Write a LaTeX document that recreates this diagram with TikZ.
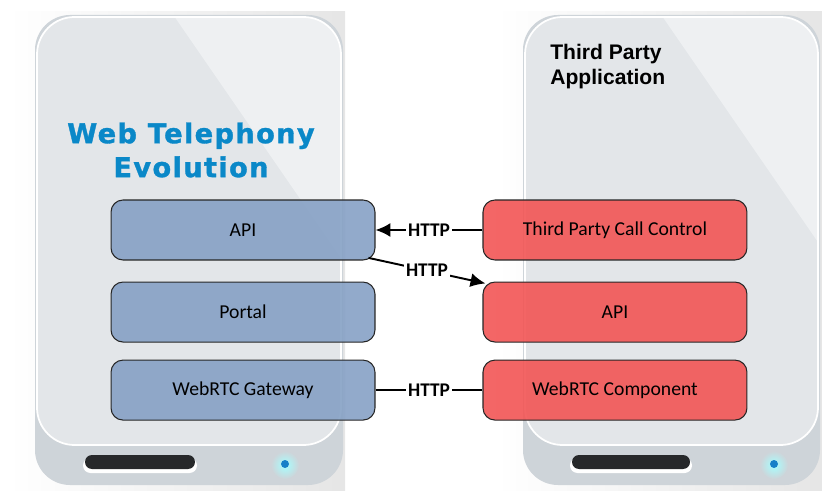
\documentclass[tikz,border=0pt]{standalone}
\usepackage{fontspec}
\setmainfont{Carlito}
\newfontfamily\titlefont[LetterSpace=5, FakeBold=1.2]{DejaVu Sans}
\newfontfamily\appfont{Liberation Sans}
\usepackage{xcolor}
\usepackage{tikz}
\usetikzlibrary{positioning, arrows.meta}

\definecolor{bezelgray}{RGB}{206,212,217}
\definecolor{facegray}{RGB}{227,230,233}
\definecolor{facehi}{RGB}{238,240,242}
\definecolor{slotgray}{RGB}{38,40,42}
\definecolor{ledblue}{RGB}{22,128,200}
\definecolor{titleblue}{RGB}{10,136,200}
\definecolor{wtblue}{RGB}{134,161,197}
\definecolor{tpred}{RGB}{242,85,85}

\begin{document}
\begin{tikzpicture}[
  x=0.02cm, y=-0.02cm,
  font=\fontsize{11.2}{13}\selectfont,
  comp/.style={draw=black!85, line width=0.6pt, rounded corners=0.24cm,
    minimum width=5.28cm, minimum height=1.2cm, align=center,
    fill opacity=0.9, text opacity=1},
  wt/.style={comp, fill=wtblue},
  tp/.style={comp, fill=tpred},
  arrow/.style={-{Latex[length=8.5pt, width=8pt]}, line width=1.1pt},
  link/.style={line width=1.1pt},
  proto/.style={fill=white, inner sep=1pt, font=\fontsize{11}{13}\selectfont\bfseries},
]
  \useasboundingbox (0,0) rectangle (822,493);

  % Two server cases: shadow, bezel, face with highlight, slot and LED
  \foreach \xl/\xr/\sl/\sr/\led in {35/343/85/195/285, 523/820/572/690/774} {
    \shade[left color=white, right color=black!10] (\xl-27,12) rectangle (\xr+2,490);
    \fill[bezelgray, rounded corners=0.7cm] (\xl,15) rectangle (\xr,485);
    \fill[facegray, rounded corners=0.75cm] (\xl+2,17) rectangle (\xr-2,445);
    \begin{scope}
      \clip[rounded corners=0.75cm] (\xl+2,17) rectangle (\xr-2,445);
      \fill[facehi] (\xl+128,0) -- (\xr+20,0) -- (\xr+20,{1.45*(\xr-\xl-108)}) -- cycle;
    \end{scope}
    \draw[white, line width=1pt, rounded corners=0.75cm] (\xl+2,17) rectangle (\xr-2,445);
    \fill[white, rounded corners=0.15cm] (\sl-2,458) rectangle (\sr+2,473);
    \fill[slotgray, rounded corners=0.14cm] (\sl,455) rectangle (\sr,469);
    \shade[inner color=cyan!35, outer color=bezelgray] (\led,465) circle (14);
    \fill[ledblue] (\led,464) circle (4);
  }

  % Titles
  \node[font=\titlefont\bfseries\fontsize{15.5}{19.3}\selectfont, text=titleblue,
    align=center] (wte) at (191,150) {Web Telephony\\Evolution};
  \node[font=\appfont\bfseries\fontsize{12}{14.2}\selectfont, align=left,
    anchor=north west, inner sep=0pt] (tpa) at (550,44) {Third Party\\Application};

  % Web telephony side
  \node[wt] (api) at (243,230) {API};
  \node[wt, below=0.42cm of api] (portal) {Portal};
  \node[wt, below=0.34cm of portal] (gw) {WebRTC Gateway};

  % Third party side
  \node[tp, right=2.14cm of api] (tpcc) {Third Party Call Control};
  \node[tp, right=2.14cm of portal] (tpapi) {API};
  \node[tp, right=2.14cm of gw] (wrtc) {WebRTC Component};

  \draw[arrow] (tpcc) -- node[proto] {HTTP} (api);
  \draw[arrow] ([xshift=-4pt, yshift=1.5pt]api.south east) -- node[proto] {HTTP}
    ([xshift=1.7pt, yshift=-1.1pt]tpapi.north west);
  \draw[link] (gw) -- node[proto] {HTTP} (wrtc);
\end{tikzpicture}
\end{document}
